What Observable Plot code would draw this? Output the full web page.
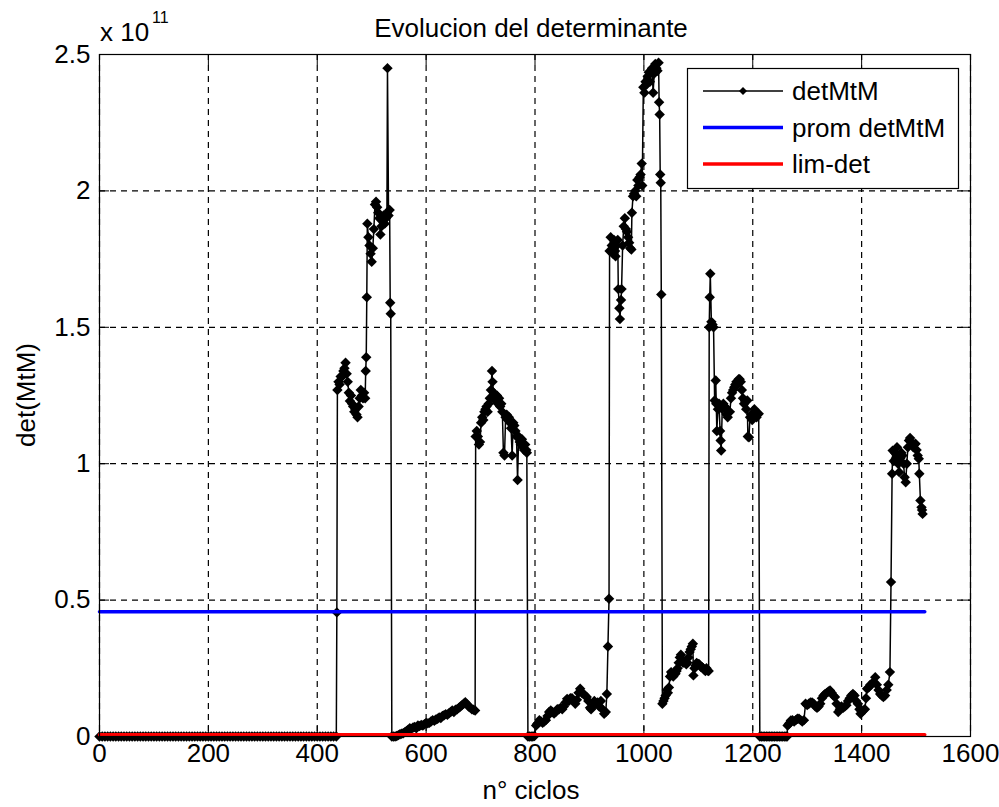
<!DOCTYPE html>
<html><head><meta charset="utf-8">
<script src="https://cdn.jsdelivr.net/npm/d3@7"></script>
<script src="https://cdn.jsdelivr.net/npm/@observablehq/plot@0.6"></script>
<style>
html,body{margin:0;padding:0;background:#fff;}
#chart svg{display:block;}
</style>
</head><body><div id="chart"></div>
<script>
// ---- tick labels ----
const ticksX = [0, 200, 400, 600, 800, 1000, 1200, 1400, 1600];
const ticksY = [0, 0.5, 1, 1.5, 2, 2.5]; // units of 10^11

// ---- detMtM series: [ciclo, valor (x 10^11)] ----
const tramoA = [[0,0],[5,0],[10,0],[15,0],[20,0],[25,0],[30,0],[35,0],[40,0],[45,0],[50,0],[55,0],[60,0],[65,0],[70,0],[75,0],[80,0],[85,0],[90,0],[95,0],
[100,0],[105,0],[110,0],[115,0],[120,0],[125,0],[130,0],[135,0],[140,0],[145,0],[150,0],[155,0],[160,0],[165,0],[170,0],[175,0],[180,0],[185,0],[190,0],[195,0],
[200,0],[205,0],[210,0],[215,0],[220,0],[225,0],[230,0],[235,0],[240,0],[245,0],[250,0],[255,0],[260,0],[265,0],[270,0],[275,0],[280,0],[285,0],[290,0],[295,0],
[300,0],[305,0],[310,0],[315,0],[320,0],[325,0],[330,0],[335,0],[340,0],[345,0],[350,0],[355,0],[360,0],[365,0],[370,0],[375,0],[380,0],[385,0],[390,0],[395,0],
[400,0],[405,0],[410,0],[415,0],[420,0],[425,0],[430,0],[435,0]];
const tramoB = [[436,0.455],[437,1.27],[439,1.30],[441,1.29],[443,1.32],[446,1.32],[448,1.34],[450,1.35],[452,1.37],[454,1.33],[456,1.30],[458,1.26],[460,1.23],
[462,1.25],[464,1.22],[466,1.21],[468,1.19],[470,1.20],[472,1.18],[474,1.17],[476,1.21],[478,1.24],[480,1.27],[482,1.25],[484,1.24],[486,1.26],[488,1.24],
[489,1.34],[490,1.39],[491,1.61],[492,1.88],[494,1.83],[496,1.80],[498,1.77],[500,1.74],[502,1.79],[504,1.86],[506,1.95],[508,1.96],[510,1.94],[512,1.92],
[514,1.90],[516,1.84],[518,1.87],[520,1.89],[522,1.91],[524,1.88],[526,1.90],[528,1.92],[529,2.45],[531,1.91],[533,1.93],[534,1.59],[535,1.55]];
const tramoC = [[537,0],[540,0],[543,0],[546,0.002],[549,0.005],[552,0.008],[555,0.01],[558,0.012],[561,0.016],[564,0.02],[567,0.025],[570,0.03],[573,0.028],
[576,0.033],[579,0.035],[582,0.03],[585,0.04],[588,0.038],[591,0.042],[594,0.04],[597,0.045],[600,0.05],[603,0.048],[606,0.05],[609,0.055],[612,0.06],
[615,0.058],[618,0.062],[621,0.065],[624,0.07],[627,0.068],[630,0.075],[633,0.078],[636,0.082],[639,0.08],[642,0.085],[645,0.09],[648,0.095],[651,0.09],
[654,0.098],[657,0.10],[660,0.105],[663,0.11],[666,0.115],[669,0.12],[672,0.126],[675,0.118],[678,0.11],[681,0.106],[684,0.10],[687,0.098],[690,0.095]];
const tramoD = [[691,1.10],[693,1.12],[695,1.10],[697,1.07],[699,1.08],[701,1.15],[703,1.17],[705,1.16],[707,1.19],[709,1.20],[711,1.21],[713,1.19],[715,1.22],
[717,1.24],[719,1.27],[721,1.34],[722,1.30],[724,1.26],[726,1.24],[728,1.23],[730,1.25],[732,1.22],[734,1.24],[736,1.21],[738,1.22],[740,1.19],[742,1.04],
[744,1.03],[746,1.17],[748,1.18],[750,1.16],[752,1.17],[754,1.15],[756,1.13],[758,1.03],[760,1.15],[762,1.14],[764,1.12],[766,1.10],[768,0.94],[770,1.10],
[772,1.08],[774,1.07],[776,1.09],[778,1.06],[780,1.05],[782,1.07],[784,1.05],[785,1.04]];
const tramoE = [[787,0],[790,0],[793,0],[796,0],[799,0.002],[802,0.04],[804,0.046],[806,0.05],[808,0.06],[811,0.055],[814,0.05],[817,0.055],[820,0.06],
[823,0.075],[826,0.09],[829,0.095],[832,0.09],[835,0.084],[838,0.09],[841,0.10],[844,0.10],[847,0.105],[850,0.10],[853,0.11],[856,0.125],[859,0.138],
[862,0.13],[865,0.14],[868,0.14],[871,0.13],[874,0.12],[877,0.135],[880,0.16],[883,0.175],[886,0.16],[889,0.156],[892,0.15],[895,0.145],[898,0.13],
[901,0.105],[903,0.10],[906,0.11],[909,0.13],[912,0.12],[915,0.125],[918,0.11],[921,0.13],[924,0.10],[927,0.083],[930,0.09],[932,0.156],[934,0.33],[936,0.505]];
const tramoF = [[937,1.78],[939,1.83],[941,1.80],[943,1.77],[945,1.82],[947,1.78],[948,1.76],[950,1.80],[952,1.82],[953,1.64],[955,1.57],[956,1.53],[958,1.60],
[959,1.64],[961,1.80],[963,1.87],[965,1.90],[967,1.86],[969,1.85],[971,1.83],[973,1.81],[975,1.79],[977,1.785],[978,1.92],[980,1.98],[982,1.99],[984,2.00],
[986,1.98],[988,2.04],[990,2.02],[992,2.05],[994,2.06],[996,2.10],[997,2.02],[999,2.38],[1001,2.36],[1003,2.40],[1005,2.39],[1007,2.42],[1009,2.435],
[1011,2.40],[1013,2.44],[1015,2.45],[1017,2.36],[1019,2.43],[1021,2.465],[1023,2.45],[1025,2.44],[1027,2.47],[1028,2.325],[1029,2.28],[1030,2.06],
[1031,2.03],[1032,1.62]];
const tramoG = [[1034,0.12],[1036,0.13],[1038,0.14],[1040,0.15],[1042,0.17],[1044,0.16],[1046,0.18],[1048,0.22],[1050,0.236],[1052,0.23],[1054,0.22],
[1056,0.235],[1058,0.23],[1060,0.24],[1062,0.25],[1064,0.27],[1066,0.29],[1068,0.30],[1070,0.28],[1072,0.27],[1074,0.275],[1076,0.27],[1078,0.265],
[1080,0.27],[1082,0.29],[1084,0.31],[1086,0.32],[1088,0.33],[1090,0.34],[1091,0.224],[1093,0.25],[1095,0.26],[1097,0.27],[1099,0.265],[1101,0.266],
[1103,0.26],[1105,0.255],[1107,0.254],[1109,0.25],[1111,0.245],[1113,0.24],[1115,0.25],[1117,0.242],[1119,0.24]];
const tramoH = [[1120,1.50],[1121,1.61],[1122,1.696],[1124,1.52],[1126,1.51],[1128,1.50],[1130,1.232],[1132,1.305],[1133,1.22],[1134,1.12],[1136,1.20],
[1138,1.22],[1140,1.12],[1141,1.085],[1142,1.048],[1144,1.20],[1146,1.22],[1148,1.21],[1150,1.207],[1152,1.18],[1154,1.17],[1156,1.19],[1158,1.19],
[1160,1.24],[1162,1.26],[1164,1.27],[1166,1.28],[1168,1.29],[1170,1.30],[1172,1.29],[1174,1.31],[1176,1.31],[1178,1.30],[1180,1.27],[1182,1.24],
[1184,1.22],[1186,1.23],[1188,1.20],[1190,1.232],[1191,1.10],[1193,1.097],[1195,1.17],[1197,1.18],[1199,1.16],[1201,1.18],[1203,1.20],[1205,1.19],
[1207,1.17],[1209,1.18],[1211,1.183]];
const tramoI = [[1213,0],[1216,0],[1219,0],[1222,0],[1225,0],[1228,0],[1231,0],[1234,0],[1237,0],[1240,0],[1243,0],[1246,0],[1249,0],[1252,0],[1255,0],
[1258,0],[1261,0],[1263,0]];
const tramoJ = [[1264,0.04],[1266,0.045],[1268,0.05],[1270,0.059],[1273,0.06],[1276,0.055],[1279,0.06],[1282,0.065],[1285,0.065],[1288,0.06],[1291,0.055],
[1294,0.06],[1297,0.12],[1300,0.115],[1303,0.12],[1306,0.125],[1309,0.125],[1312,0.12],[1315,0.11],[1318,0.105],[1321,0.11],[1324,0.12],[1327,0.14],
[1330,0.15],[1333,0.156],[1336,0.16],[1339,0.165],[1342,0.169],[1345,0.16],[1348,0.15],[1351,0.145],[1354,0.12],[1357,0.09],[1360,0.10],[1363,0.11],
[1366,0.105],[1369,0.11],[1372,0.115],[1375,0.13],[1378,0.14],[1381,0.15],[1384,0.156],[1387,0.15],[1390,0.13],[1393,0.12],[1396,0.10],[1398,0.083],
[1400,0.09],[1403,0.095],[1406,0.10],[1408,0.14],[1410,0.175],[1413,0.18],[1416,0.19],[1419,0.193],[1422,0.20],[1425,0.217],[1428,0.19],[1431,0.17],
[1434,0.156],[1437,0.15],[1440,0.145],[1443,0.15],[1446,0.17],[1449,0.19],[1452,0.236],[1454,0.566]];
const tramoK = [[1456,0.963],[1457,1.048],[1459,1.01],[1461,1.04],[1463,1.02],[1465,1.06],[1467,1.00],[1469,0.969],[1471,1.02],[1473,1.04],[1475,1.03],
[1477,1.00],[1479,0.95],[1481,0.932],[1483,1.00],[1485,1.06],[1487,1.085],[1489,1.094],[1491,1.08],[1493,1.07],[1495,1.06],[1497,1.07],[1499,1.073],
[1501,1.05],[1503,1.03],[1505,1.018],[1506,0.963],[1508,0.865],[1510,0.84],[1511,0.83],[1512,0.816]];

// ---- reference lines ----
const refCiclos = [0, 1516];
const promDetMtM = 0.457; // x 10^11
const limDet = 0.006;     // x 10^11

// ---- legend labels ----
const legendLabels = ["detMtM", "prom detMtM", "lim-det"];
const legendColors = ["#000000", "#0000ff", "#ff0000"];

const detMtM = [].concat(tramoA, tramoB, tramoC, tramoD, tramoE, tramoF, tramoG, tramoH, tramoI, tramoJ, tramoK)
  .map(([c, v]) => ({ciclo: c, det: v}));
const prom = refCiclos.map(c => ({ciclo: c, det: promDetMtM}));
const lim = refCiclos.map(c => ({ciclo: c, det: limDet}));

const FONT = "'Liberation Sans', Arial, Helvetica, sans-serif";
const FS = 26;
const GRID = {stroke: "#000", strokeOpacity: 1, strokeWidth: 1.2, strokeDasharray: "6,5"};

const chart = Plot.plot({
  width: 999, height: 807,
  marginLeft: 99, marginRight: 29, marginTop: 54, marginBottom: 71,
  style: {fontFamily: FONT, fontSize: FS + "px", background: "#fff", color: "#000", overflow: "visible"},
  x: {domain: [0, 1600], label: null},
  y: {domain: [0, 2.5], label: null},
  marks: [
    Plot.gridX(ticksX, GRID),
    Plot.gridY(ticksY, GRID),
    // inner tick marks on all four sides
    Plot.axisX(ticksX, {anchor: "bottom", tickSize: 10, dy: -10, tickFormat: () => "", label: null}),
    Plot.axisX(ticksX, {anchor: "top", tickSize: 10, dy: 10, tickFormat: () => "", label: null}),
    Plot.axisY(ticksY, {anchor: "left", tickSize: 10, dx: 10, tickFormat: () => "", label: null}),
    Plot.axisY(ticksY, {anchor: "right", tickSize: 10, dx: -10, tickFormat: () => "", label: null}),
    // tick labels
    Plot.axisX(ticksX, {anchor: "bottom", tickSize: 0, tickPadding: 7, tickFormat: d => String(d), label: null, fontSize: FS}),
    Plot.axisY(ticksY, {anchor: "left", tickSize: 0, tickPadding: 9, tickFormat: d => String(d), label: null, fontSize: FS}),
    // data
    Plot.line(detMtM, {x: "ciclo", y: "det", stroke: "#000", strokeWidth: 1.5}),
    Plot.dot(detMtM, {x: "ciclo", y: "det", symbol: "diamond2", r: 4.7, fill: "#000", stroke: "none"}),
    Plot.line(prom, {x: "ciclo", y: "det", stroke: "#0000ff", strokeWidth: 3.5}),
    Plot.line(lim, {x: "ciclo", y: "det", stroke: "#ff0000", strokeWidth: 3.5}),
    Plot.frame({stroke: "#000", strokeWidth: 1.2})
  ]
});
document.getElementById("chart").appendChild(chart);

const svg = d3.select(chart);
const txt = (x, y, s, opts = {}) => svg.append("text")
  .attr("x", x).attr("y", y)
  .attr("font-family", FONT).attr("font-size", opts.size || FS)
  .attr("text-anchor", opts.anchor || "start")
  .attr("fill", "#000")
  .attr("transform", opts.transform || null)
  .text(s);

txt(531, 37, "Evolucion del determinante", {anchor: "middle"});
txt(100, 41, "x 10");
txt(152, 23, "11", {size: 16});
txt(531, 799, "n° ciclos", {anchor: "middle"});
txt(0, 0, "det(MtM)", {anchor: "middle", transform: "translate(35,395) rotate(-90)"});

// legend box
const lg = svg.append("g");
lg.append("rect").attr("x", 687.5).attr("y", 68.5).attr("width", 271).attr("height", 120)
  .attr("fill", "#fff").attr("stroke", "#000").attr("stroke-width", 1.2);
const rowsY = [91, 127.5, 164];
legendLabels.forEach((lab, i) => {
  lg.append("line").attr("x1", 703).attr("x2", 783).attr("y1", rowsY[i]).attr("y2", rowsY[i])
    .attr("stroke", legendColors[i]).attr("stroke-width", i === 0 ? 1.4 : 3.5);
  if (i === 0) {
    const r = 4;
    lg.append("path").attr("d", `M743,${rowsY[i]-r}L${743+r},${rowsY[i]}L743,${rowsY[i]+r}L${743-r},${rowsY[i]}Z`).attr("fill", "#000");
  }
  lg.append("text").attr("x", 792).attr("y", rowsY[i] + 9.3)
    .attr("text-anchor", "start")
    .attr("font-family", FONT).attr("font-size", FS).attr("fill", "#000").text(lab);
});
</script>
</body></html>
